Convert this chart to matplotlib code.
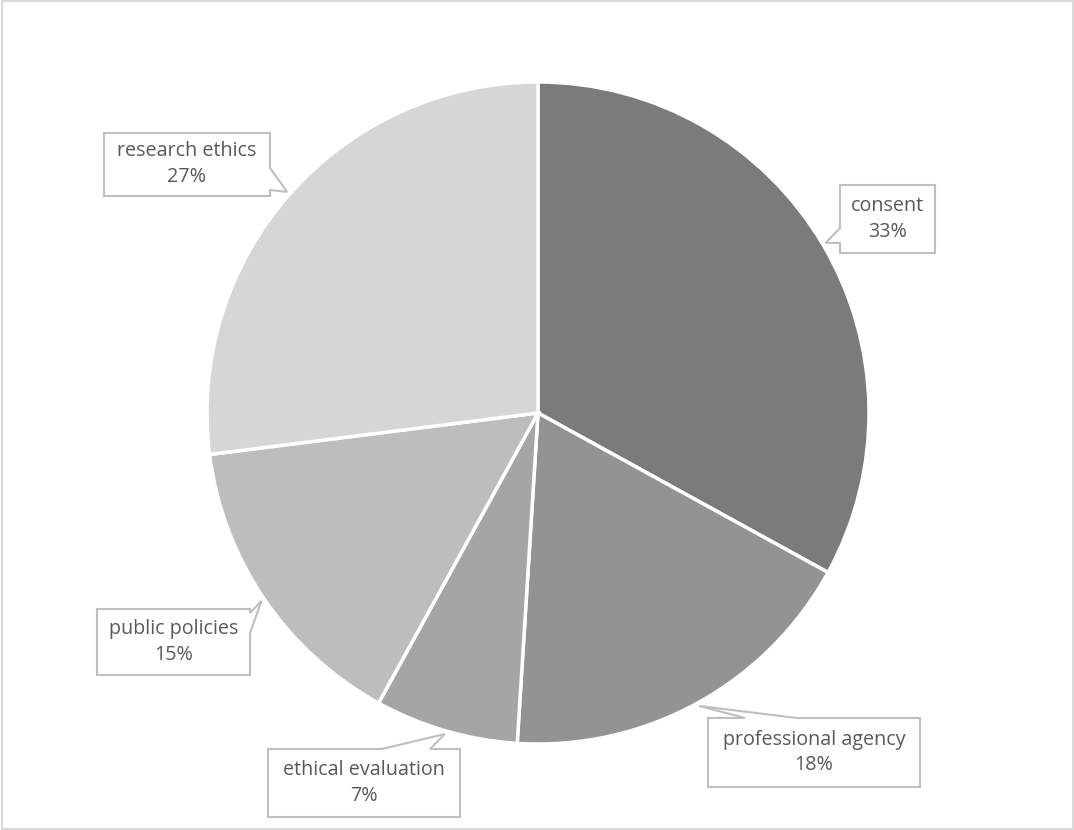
import numpy as np
import matplotlib.pyplot as plt
from matplotlib.patches import Polygon, Rectangle

W, H = 1074, 830

labels = ['consent', 'professional agency', 'ethical evaluation', 'public policies', 'research ethics']
shares = [33, 18, 7, 15, 27]
colors = ['#7b7b7b', '#939393', '#a5a5a5', '#bdbdbd', '#d6d6d6']

# label boxes in pixel coords (left, top, right, bottom), edge the pointer leaves from, span on that edge
boxes = [(840, 185, 935, 253), (708, 718, 920, 787), (268, 749, 460, 817),
         (97, 609, 250, 675), (104, 133, 270, 196)]
sides = ['left', 'top', 'top', 'right', 'right']
spans = [(228, 243), (745, 797), (382, 430), (613, 633), (168, 190)]

cx, cy, R = 538, 413, 331

fig = plt.figure(figsize=(W / 100, H / 100), dpi=100)
ax = fig.add_axes([0, 0, 1, 1])

ax.pie(shares, colors=colors, startangle=90, counterclock=False,
       center=(cx, H - cy), radius=R,
       wedgeprops=dict(edgecolor='white', linewidth=2.5))
ax.set_xlim(0, W)
ax.set_ylim(0, H)
ax.set_aspect('equal')
ax.axis('off')

# outer chart border
ax.add_patch(Rectangle((1.5, 1.5), W - 3, H - 3, fill=False, edgecolor='#d9d9d9', lw=1.5))

cum = np.cumsum([0] + shares)
for i, lab in enumerate(labels):
    mid = np.deg2rad(90 - (cum[i] + shares[i] / 2) / 100 * 360)
    tip = (cx + R * 1.01 * np.cos(mid), cy - R * 1.01 * np.sin(mid))
    l, t, r, b = boxes[i]
    a, c = spans[i]
    if sides[i] == 'left':
        pts = [(l, t), (r, t), (r, b), (l, b), (l, c), tip, (l, a)]
    elif sides[i] == 'right':
        pts = [(l, t), (r, t), (r, a), tip, (r, c), (r, b), (l, b)]
    else:
        pts = [(l, t), (a, t), tip, (c, t), (r, t), (r, b), (l, b)]
    pts = [(x, H - y) for x, y in pts]
    ax.add_patch(Polygon(pts, closed=True, facecolor='white', edgecolor='#bfbfbf', lw=1.5, zorder=5))
    ax.text((l + r) / 2, H - (t + b) / 2, f'{lab}\n{shares[i]}%', ha='center', va='center',
            fontsize=14.2, color='#595959', family='Open Sans', linespacing=1.4, zorder=6)

plt.savefig('out.png')
